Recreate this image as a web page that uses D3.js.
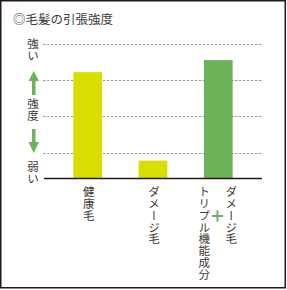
<!DOCTYPE html>
<html lang="ja">
<head>
<meta charset="UTF-8">
<style>
  body { margin: 0; background: #fff; }
  text { font-family: "Noto Sans CJK JP", sans-serif; fill: #3e3a39; }
</style>
</head>
<body>
<div id="chart"></div>
<script src="https://d3js.org/d3.v7.min.js"></script>
<script>
// data
var categories = ["健康毛", "ダメージ毛", "ダメージ毛+トリプル機能成分"];
var values = [79, 13, 88];
var gridValues = [19, 46, 73, 100];
var barColors = ["#d8df00", "#d8df00", "#6cb259"];

var width = 287, height = 290;
var svg = d3.select("#chart").append("svg")
  .attr("width", width).attr("height", height);

// frame
svg.append("rect")
  .attr("x", 0.75).attr("y", 0.75)
  .attr("width", 284.5).attr("height", 287)
  .attr("fill", "none").attr("stroke", "#231815").attr("stroke-width", 1.5);

// title
svg.append("text").attr("x", 13).attr("y", 24)
  .style("font-size", "12.5px").text("◎毛髪の引張強度");

var x = d3.scaleBand().domain(categories).range([44, 262]).paddingInner(0.56).paddingOuter(0.45);
var y = d3.scaleLinear().domain([0, 100]).range([178, 44]);

// grid
svg.selectAll(".grid").data(gridValues).enter().append("line")
  .attr("x1", 43).attr("x2", 262)
  .attr("y1", function (d) { return Math.round(y(d)) + 0.5; })
  .attr("y2", function (d) { return Math.round(y(d)) + 0.5; })
  .attr("stroke", "#9a9a9a").attr("stroke-dasharray", "2.5,1.5").attr("stroke-width", 1);

// bars
svg.selectAll(".bar").data(values).enter().append("rect")
  .attr("x", function (d, i) { return x(categories[i]); })
  .attr("y", function (d) { return y(d); })
  .attr("width", x.bandwidth())
  .attr("height", function (d) { return y(0) - y(d); })
  .attr("fill", function (d, i) { return barColors[i]; });

// axis baseline
svg.append("line").attr("x1", 44).attr("x2", 262)
  .attr("y1", y(0) + 0.5).attr("y2", y(0) + 0.5)
  .attr("stroke", "#231815").attr("stroke-width", 1.3);

// vertical text helper
function vtext(str, cx, top, size, spacing) {
  svg.append("text")
    .attr("x", cx).attr("y", top)
    .style("writing-mode", "vertical-rl")
    .style("font-size", size + "px")
    .style("letter-spacing", (spacing || 0) + "px")
    .text(str);
}

// left labels
vtext("強い", 33, 38, 11.5, 0.5);
vtext("強度", 33, 98, 11.5, 0.5);
vtext("弱い", 33, 161, 11.5, 0.5);

// arrows
var green = "#6cb259";
svg.append("rect").attr("x", 32).attr("y", 80).attr("width", 3.5).attr("height", 15).attr("fill", green);
svg.append("path").attr("d", "M33.75,71 L39,81 L28.5,81 Z").attr("fill", green);
svg.append("rect").attr("x", 32).attr("y", 129).attr("width", 3.5).attr("height", 15).attr("fill", green);
svg.append("path").attr("d", "M33.75,153 L39,142 L28.5,142 Z").attr("fill", green);

// category labels
var c0 = x(categories[0]) + x.bandwidth() / 2;
var c1 = x(categories[1]) + x.bandwidth() / 2;
var c2 = x(categories[2]) + x.bandwidth() / 2;
vtext("健康毛", c0 + 1, 186, 11.5, 0.3);
vtext("ダメージ毛", c1 + 1, 186, 11.5, 0.3);
vtext("ダメージ毛", c2 + 13, 186, 11.5, 0.3);
vtext("トリプル機能成分", c2 - 14, 186, 11.5, 0.3);
// plus sign
svg.append("rect").attr("x", 212).attr("y", 215).attr("width", 11).attr("height", 2).attr("fill", green);
svg.append("rect").attr("x", 216.5).attr("y", 210.5).attr("width", 2).attr("height", 11).attr("fill", green);
</script>
</body>
</html>
